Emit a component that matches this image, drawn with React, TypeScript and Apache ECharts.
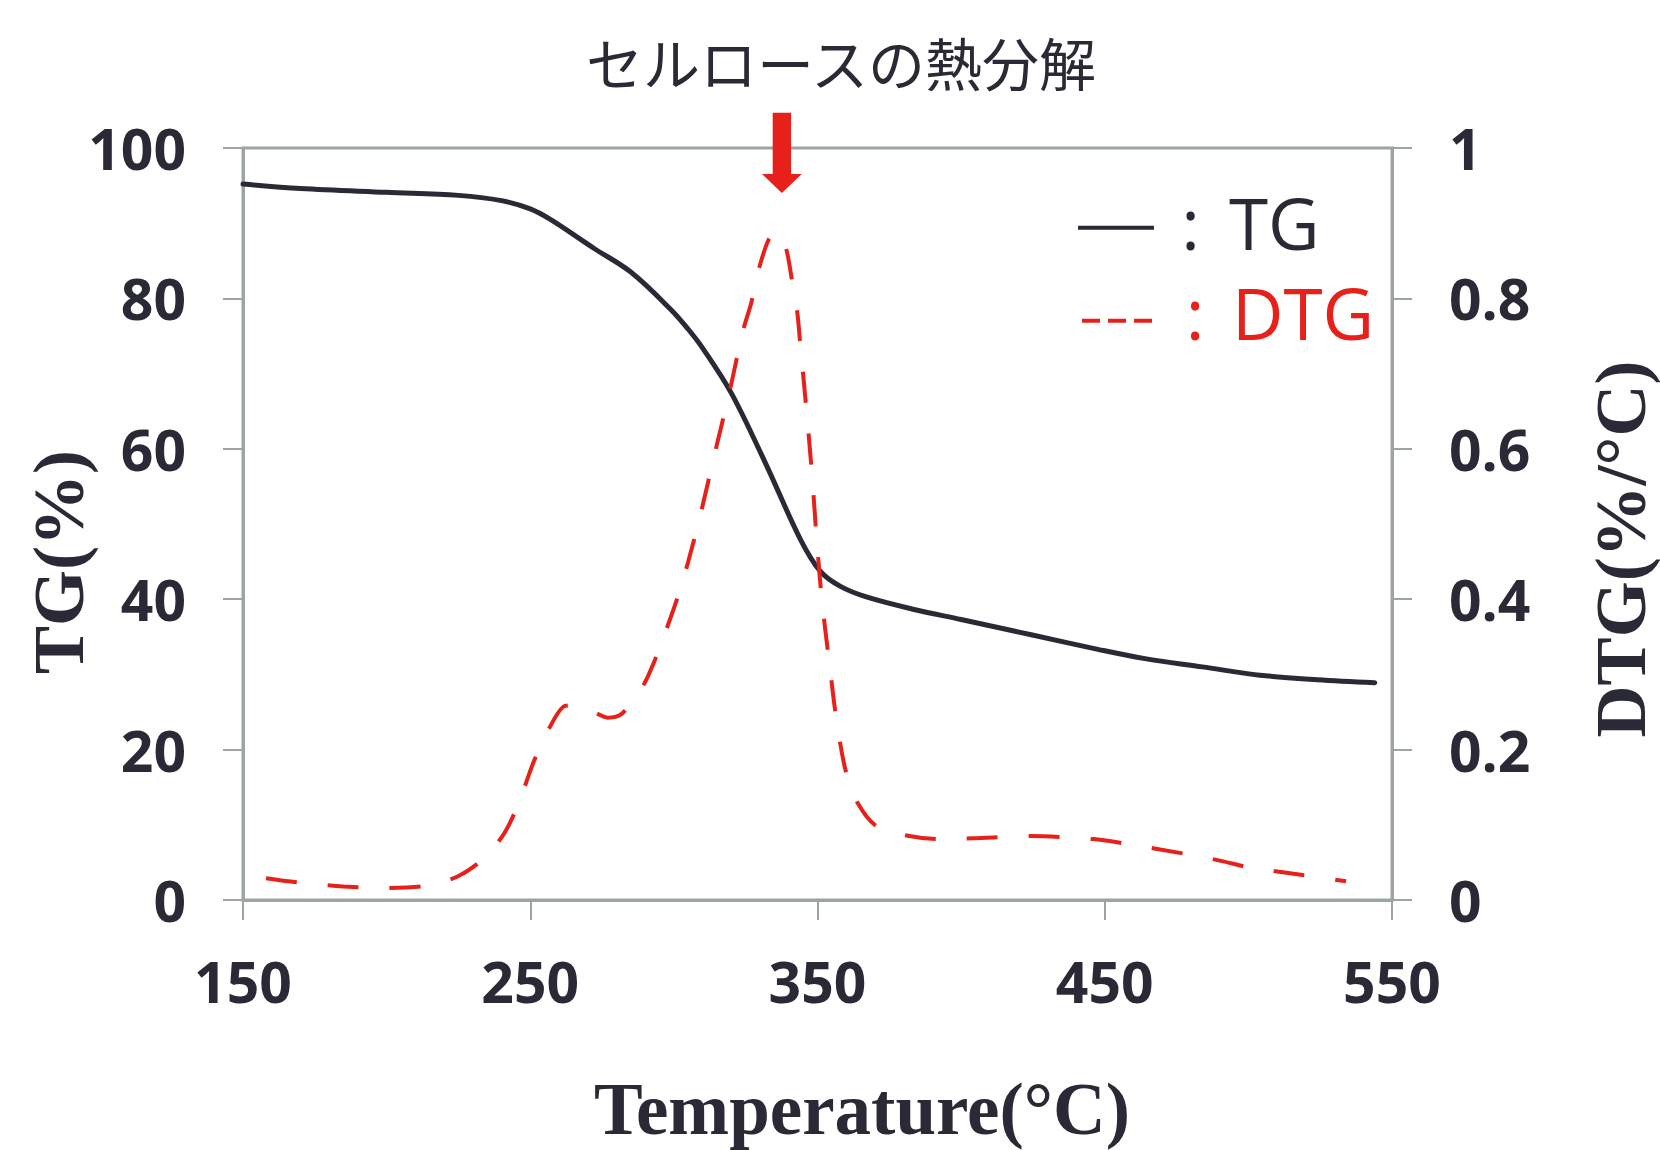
import React, { useEffect, useRef } from "react";
import * as echarts from "echarts";

// ---- data ----
const tempTG = [150, 170, 200, 225, 240, 250, 257, 272, 285, 299, 305, 310, 320, 332, 344, 351, 358, 367, 384, 400, 424, 448, 464, 484, 504, 524, 544];
const valTG = [95.2, 94.6, 94.1, 93.7, 93.0, 91.9, 90.5, 86.7, 83.5, 78.5, 75.9, 73.4, 67.4, 58.0, 48.0, 43.7, 41.7, 40.3, 38.6, 37.3, 35.3, 33.3, 32.1, 31.0, 29.9, 29.3, 28.9];

const tempDTG = [158, 170, 185, 200, 214, 225, 234, 241, 246, 251, 256, 261.5, 265, 272, 277, 282, 289, 293.5, 297.5, 301, 305, 309, 314, 319.5, 324, 327, 329.5, 333, 336, 339, 341, 343, 344, 346, 348, 349.7, 351.5, 354, 356.7, 360, 364, 370.6, 382, 393, 404, 424, 446, 457, 478.5, 490.5, 500.5, 512, 534];
const valDTG = [0.029, 0.023, 0.018, 0.016, 0.019, 0.032, 0.056, 0.089, 0.129, 0.182, 0.224, 0.257, 0.259, 0.25, 0.2425, 0.248, 0.283, 0.32, 0.361, 0.399, 0.45, 0.5085, 0.59, 0.678, 0.756, 0.795, 0.838, 0.878, 0.889, 0.867, 0.827, 0.78, 0.739, 0.658, 0.57, 0.481, 0.4, 0.319, 0.237, 0.169, 0.129, 0.098, 0.085, 0.081, 0.082, 0.085, 0.081, 0.075, 0.061, 0.052, 0.043, 0.037, 0.025];

const xTicks = { min: 150, max: 550, interval: 100 };
const tgTicks = { min: 0, max: 100, interval: 20 };
const dtgTicks = { min: 0, max: 1, interval: 0.2 };

const titleText = "セルロースの熱分解";
const xName = "Temperature(°C)";
const yLeftName = "TG(%)";
const yRightName = "DTG(%/°C)";
const legendNames = ["TG", "DTG"];
const arrowTemp = 337.6;

const TXT = "#2a2a36";
const RED = "#e8201a";
const AX = "#9ca59e";

export default function App() {
  const ref = useRef<HTMLDivElement>(null);

  useEffect(() => {
    const chart = echarts.init(ref.current as HTMLDivElement, null, {
      renderer: "svg",
      width: 1660,
      height: 1150,
    });

    const tickFont = {
      fontFamily: "Open Sans",
      fontWeight: "bold" as const,
      fontSize: 57,
      color: TXT,
    };
    const axisLine = { show: true, lineStyle: { color: AX, width: 3 } };
    const axisTick = { show: true, inside: false, length: 20, lineStyle: { color: AX, width: 2 } };

    chart.setOption({
      animation: false,
      backgroundColor: "#ffffff",
      grid: {
        left: 243,
        right: 268,
        top: 148,
        bottom: 250,
        show: true,
        borderColor: AX,
        borderWidth: 3,
      },
      xAxis: {
        type: "value",
        ...xTicks,
        axisLine,
        axisTick,
        splitLine: { show: false },
        axisLabel: { ...tickFont, margin: 52 },
      },
      yAxis: [
        {
          type: "value",
          position: "left",
          ...tgTicks,
          axisLine,
          axisTick,
          splitLine: { show: false },
          axisLabel: { ...tickFont, margin: 57 },
        },
        {
          type: "value",
          position: "right",
          ...dtgTicks,
          axisLine,
          axisTick,
          splitLine: { show: false },
          axisLabel: { ...tickFont, margin: 57 },
        },
      ],
      series: [
        {
          name: legendNames[0],
          type: "line",
          yAxisIndex: 0,
          data: tempTG.map((t, i) => [t, valTG[i]]),
          showSymbol: false,
          smooth: 0.35,
          lineStyle: { color: TXT, width: 5, cap: "round" },
        },
        {
          name: legendNames[1],
          type: "line",
          yAxisIndex: 1,
          data: tempDTG.map((t, i) => [t, valDTG[i]]),
          showSymbol: false,
          smooth: 0.3,
          lineStyle: { color: RED, width: 4, type: [31, 31] },
        },
      ],
    });

    const ax = chart.convertToPixel({ xAxisIndex: 0 }, arrowTemp) as number;

    chart.setOption({
      graphic: [
        {
          type: "text",
          x: 841,
          y: 61,
          style: {
            text: titleText,
            fontFamily: "Noto Sans CJK JP",
            fontSize: 57,
            fontWeight: "normal",
            fill: TXT,
            align: "center",
            verticalAlign: "middle",
          },
        },
        {
          type: "polygon",
          shape: {
            points: [
              [ax - 9.2, 112.7],
              [ax + 9.2, 112.7],
              [ax + 9.2, 174],
              [ax + 19.9, 174],
              [ax, 193],
              [ax - 19.9, 174],
              [ax - 9.2, 174],
            ],
          },
          style: { fill: RED },
          z: 100,
        },
        {
          type: "text",
          x: 862,
          y: 1109,
          style: {
            text: xName,
            fontFamily: "Liberation Serif",
            fontWeight: "bold",
            fontSize: 73,
            fill: TXT,
            align: "center",
            verticalAlign: "middle",
          },
        },
        {
          type: "text",
          x: 59,
          y: 562,
          rotation: Math.PI / 2,
          style: {
            text: yLeftName,
            fontFamily: "Liberation Serif",
            fontWeight: "bold",
            fontSize: 72,
            fill: TXT,
            align: "center",
            verticalAlign: "middle",
          },
        },
        {
          type: "text",
          x: 1621,
          y: 549,
          rotation: Math.PI / 2,
          style: {
            text: yRightName,
            fontFamily: "Liberation Serif",
            fontWeight: "bold",
            fontSize: 72,
            fill: TXT,
            align: "center",
            verticalAlign: "middle",
          },
        },
        // legend
        {
          type: "line",
          shape: { x1: 1078, y1: 227.7, x2: 1154, y2: 227.7 },
          style: { stroke: TXT, lineWidth: 4 },
        },
        {
          type: "line",
          shape: { x1: 1082, y1: 320.7, x2: 1153, y2: 320.7 },
          style: { stroke: RED, lineWidth: 4, lineDash: [18, 8] },
        },
        {
          type: "text",
          x: 1190.5,
          y: 222,
          style: { text: ":", fontFamily: "Open Sans", fontSize: 71, fill: TXT, align: "center", verticalAlign: "middle" },
        },
        {
          type: "text",
          x: 1195,
          y: 312,
          style: { text: ":", fontFamily: "Open Sans", fontSize: 71, fill: RED, align: "center", verticalAlign: "middle" },
        },
        {
          type: "text",
          x: 1229,
          y: 222,
          style: { text: legendNames[0], fontFamily: "Open Sans", fontSize: 71, fill: TXT, align: "left", verticalAlign: "middle" },
        },
        {
          type: "text",
          x: 1232,
          y: 312,
          style: { text: legendNames[1], fontFamily: "Open Sans", fontSize: 71, fill: RED, align: "left", verticalAlign: "middle" },
        },
      ],
    });

    return () => chart.dispose();
  }, []);

  return (
    <div
      ref={ref}
      style={{ position: "absolute", left: 0, top: 0, width: 1660, height: 1150 }}
    />
  );
}
